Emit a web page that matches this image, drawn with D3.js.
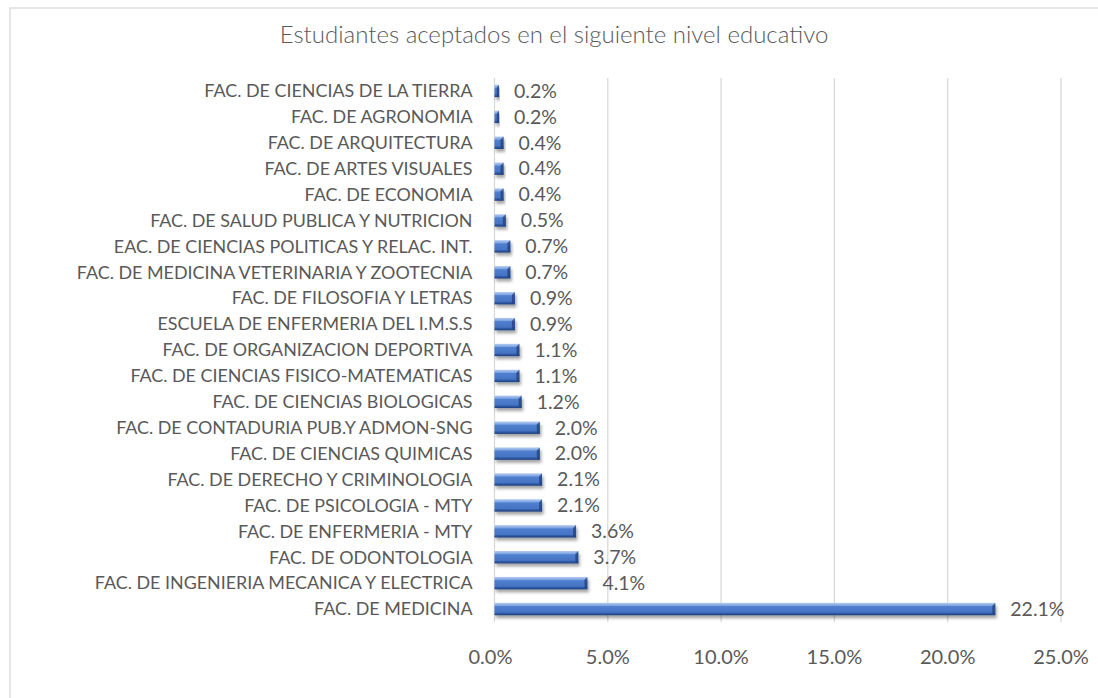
<!DOCTYPE html>
<html>
<head>
<meta charset="utf-8">
<script src="https://cdn.jsdelivr.net/npm/d3@7"></script>
<style>
  body { margin: 0; background: #fff; }
  svg text { font-family: Lato, "Liberation Sans", sans-serif; fill: #595959; }
</style>
</head>
<body>
<svg id="chart" width="1098" height="698"></svg>
<script>
// categories, top to bottom as drawn
const faculties = [
    "FAC. DE CIENCIAS DE LA TIERRA",
    "FAC. DE AGRONOMIA",
    "FAC. DE ARQUITECTURA",
    "FAC. DE ARTES VISUALES",
    "FAC. DE ECONOMIA",
    "FAC. DE SALUD PUBLICA Y NUTRICION",
    "EAC. DE CIENCIAS POLITICAS Y RELAC. INT.",
    "FAC. DE MEDICINA VETERINARIA Y ZOOTECNIA",
    "FAC. DE FILOSOFIA Y LETRAS",
    "ESCUELA DE ENFERMERIA DEL I.M.S.S",
    "FAC. DE ORGANIZACION DEPORTIVA",
    "FAC. DE CIENCIAS FISICO-MATEMATICAS",
    "FAC. DE CIENCIAS BIOLOGICAS",
    "FAC. DE CONTADURIA PUB.Y ADMON-SNG",
    "FAC. DE CIENCIAS QUIMICAS",
    "FAC. DE DERECHO Y CRIMINOLOGIA",
    "FAC. DE PSICOLOGIA - MTY",
    "FAC. DE ENFERMERIA - MTY",
    "FAC. DE ODONTOLOGIA",
    "FAC. DE INGENIERIA MECANICA Y ELECTRICA",
    "FAC. DE MEDICINA"
];

// share of accepted students (%)
const accepted = [0.2, 0.2, 0.4, 0.4, 0.4, 0.5, 0.7, 0.7, 0.9, 0.9, 1.1, 1.1, 1.2, 2.0, 2.0, 2.1, 2.1, 3.6, 3.7, 4.1, 22.1];

const xTicks = [0, 5, 10, 15, 20, 25];

const chartTitle = "Estudiantes aceptados en el siguiente nivel educativo";

const svg = d3.select("#chart");

// plot area
const plotLeft = 494.5, plotRight = 1061, plotTop = 78, plotBottom = 622;

// outer chart border (runs off the right and bottom of the window)
svg.append("rect")
    .attr("x", 10).attr("y", 8)
    .attr("width", 1200).attr("height", 800)
    .attr("fill", "#fff")
    .attr("stroke", "#d9d9d9")
    .attr("stroke-width", 1.3);

svg.append("text")
    .attr("x", 554).attr("y", 43)
    .attr("text-anchor", "middle")
    .style("font-size", "24px")
    .style("font-weight", 300)
    .text(chartTitle);

const x = d3.scaleLinear().domain([0, 25]).range([plotLeft, plotRight]);
const y = d3.scaleBand().domain(faculties).range([plotTop, plotBottom]).paddingInner(0.52).paddingOuter(0.26);

// gridlines
svg.append("g")
    .selectAll("line")
    .data(xTicks)
    .join("line")
    .attr("x1", d => x(d)).attr("x2", d => x(d))
    .attr("y1", plotTop).attr("y2", plotBottom)
    .attr("stroke", "#d9d9d9")
    .attr("stroke-width", 1.3);

// x tick labels
svg.append("g")
    .selectAll("text")
    .data(xTicks)
    .join("text")
    .attr("x", d => x(d) - (d === 0 ? 4 : 0))
    .attr("y", 664)
    .attr("text-anchor", "middle")
    .style("font-size", "20px")
    .text(d => d3.format(".1f")(d) + "%");

// y labels
svg.append("g")
    .selectAll("text")
    .data(faculties)
    .join("text")
    .attr("x", plotLeft - 22)
    .attr("y", d => y(d) + y.bandwidth() / 2)
    .attr("dy", "0.35em")
    .attr("text-anchor", "end")
    .style("font-size", "17.9px")
    .text(d => d);

// bar styling: bevelled blue with a soft shadow
const defs = svg.append("defs");
const grad = defs.append("linearGradient")
    .attr("id", "barFill")
    .attr("x1", 0).attr("y1", 0).attr("x2", 0).attr("y2", 1);
grad.selectAll("stop")
    .data([
        [0, "#b4ccf2"], [0.22, "#7ea3e2"], [0.3, "#4f7fcf"],
        [0.75, "#4674c4"], [0.85, "#2f5aa6"], [1, "#1f3f7a"]
    ])
    .join("stop")
    .attr("offset", d => d[0])
    .attr("stop-color", d => d[1]);

const shadow = defs.append("filter")
    .attr("id", "barShadow")
    .attr("x", "-20%").attr("y", "-50%")
    .attr("width", "140%").attr("height", "220%");
shadow.append("feDropShadow")
    .attr("dx", 1.5).attr("dy", 3)
    .attr("stdDeviation", 1.6)
    .attr("flood-color", "#000")
    .attr("flood-opacity", 0.35);

const bars = svg.append("g")
    .selectAll("g")
    .data(faculties.map((f, i) => ({ name: f, value: accepted[i] })))
    .join("g");

bars.append("rect")
    .attr("x", plotLeft)
    .attr("y", d => y(d.name))
    .attr("width", d => x(d.value) - plotLeft)
    .attr("height", y.bandwidth())
    .attr("fill", "url(#barFill)")
    .attr("filter", "url(#barShadow)");

// darker bevel on the right end of each bar
bars.append("path")
    .attr("d", d => {
        const x1 = x(d.value), y0 = y(d.name), h = y.bandwidth();
        const b = Math.min(3, (x1 - plotLeft) / 2);
        return `M${x1},${y0}L${x1 - b},${y0 + 3}L${x1 - b},${y0 + h - 2}L${x1},${y0 + h}Z`;
    })
    .attr("fill", "#1f3f7a")
    .attr("opacity", 0.75);

// value labels
bars.append("text")
    .attr("x", d => x(d.value) + 15)
    .attr("y", d => y(d.name) + y.bandwidth() / 2)
    .attr("dy", "0.35em")
    .style("font-size", "19.5px")
    .text(d => d3.format(".1f")(d.value) + "%");
</script>
</body>
</html>
